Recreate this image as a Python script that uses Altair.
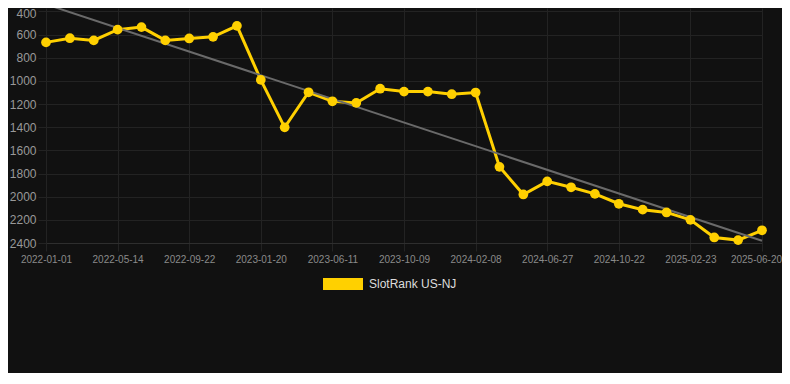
import altair as alt
import pandas as pd

dates = [
    "2022-01-01", "2022-02-14", "2022-03-30", "2022-05-14", "2022-06-27", "2022-08-09",
    "2022-09-22", "2022-11-01", "2022-12-11", "2023-01-20", "2023-03-08", "2023-04-25",
    "2023-06-11", "2023-07-21", "2023-08-30", "2023-10-09", "2023-11-18", "2023-12-29",
    "2024-02-08", "2024-03-24", "2024-05-12", "2024-06-27", "2024-08-04", "2024-09-13",
    "2024-10-22", "2024-12-02", "2025-01-12", "2025-02-23", "2025-04-03", "2025-05-12",
    "2025-06-20",
]
ranks = [
    667, 631, 650, 557, 535, 650, 633, 619, 524, 991, 1401, 1098, 1176, 1190, 1067,
    1092, 1092, 1115, 1100, 1742, 1981, 1868, 1919, 1976, 2061, 2112, 2136, 2200,
    2352, 2375, 2290,
]
tick_dates = [
    "2022-01-01", "2022-05-14", "2022-09-22", "2023-01-20", "2023-06-11", "2023-10-09",
    "2024-02-08", "2024-06-27", "2024-10-22", "2025-02-23", "2025-06-20",
]
y_ticks = [400, 600, 800, 1000, 1200, 1400, 1600, 1800, 2000, 2200, 2400]
trend_dates = ["2022-01-01", "2025-06-20"]
trend_values = [338, 2380]
series_name = "SlotRank US-NJ"

df = pd.DataFrame({"date": dates, "rank": ranks, "series": series_name})
trend = pd.DataFrame({"date": trend_dates, "rank": trend_values})

GRID = "#232323"
FONT = "Liberation Sans"

x_enc = alt.X(
    "date:O",
    sort=None,
    scale=alt.Scale(type="point", padding=0, range=[0, 716]),
    axis=alt.Axis(
        values=tick_dates, labelAngle=0, title=None, grid=True, gridColor=GRID,
        tickColor=GRID, tickSize=8, labelPadding=3, labelColor="#8a8a8a",
        labelFontSize=10, labelFont=FONT, domainColor="#2e2e2e",
        labelOffset={"condition": {"test": f"datum.value == '{tick_dates[-1]}'", "value": -6}, "value": 0},
    ),
)
y_scale = alt.Scale(domain=[370, 2400], reverse=True, nice=False, zero=False)
y_enc = alt.Y(
    "rank:Q",
    scale=y_scale,
    axis=alt.Axis(
        values=y_ticks, tickCount=20, format="d", labelOverlap=False, title=None,
        grid=True, gridColor=GRID, tickColor=GRID, tickSize=8, labelPadding=2,
        labelColor="#999999", labelFontSize=12, labelFont=FONT, domain=False,
        labelOffset={"condition": {"test": f"datum.value == {y_ticks[0]}", "value": 2}, "value": 0},
    ),
)

trend_line = alt.Chart(trend).mark_line(color="#6a6a6a", strokeWidth=2, clip=True).encode(
    x=alt.X("date:O", sort=None), y=alt.Y("rank:Q")
)
line = alt.Chart(df).mark_line(color="#FFD000", strokeWidth=3).encode(x=x_enc, y=y_enc)
points = alt.Chart(df).mark_circle(size=95, opacity=1).encode(
    x=alt.X("date:O", sort=None),
    y=alt.Y("rank:Q"),
    color=alt.Color(
        "series:N",
        scale=alt.Scale(range=["#FFD000"]),
        legend=alt.Legend(
            title=None, orient="none", legendX=277, legendY=256, padding=0,
            symbolType="M-1,-0.3H1V0.3H-1Z", symbolSize=1600, symbolStrokeWidth=0,
            symbolOpacity=1, labelOffset=6, labelFontSize=12, labelFont=FONT,
            labelColor="#dddddd",
        ),
    ),
)

chart = (
    alt.layer(line, trend_line, points)
    .properties(
        width=736, height=235,
        autosize=alt.AutoSizeParams(type="none"),
        padding={"left": 38, "top": 0, "right": 0, "bottom": 130},
        background="#111111",
    )
    .configure_view(stroke=None)
)

chart.save("out.html", embed_options={"renderer": "svg", "actions": False})
